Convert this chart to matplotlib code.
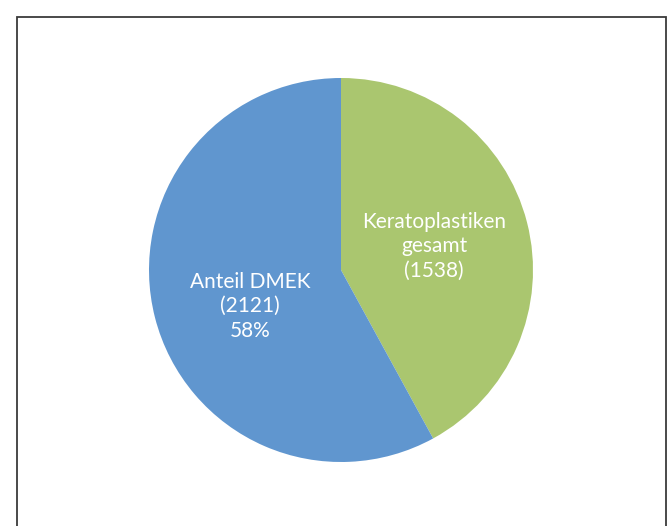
import matplotlib.pyplot as plt
from matplotlib.patches import Rectangle

# data
labels = ['Keratoplastiken\ngesamt\n(1538)', 'Anteil DMEK\n(2121)\n58%']
values = [1538, 2121]
colors = ['#AAC66F', '#6096CF']

W, H = 668, 526
fig = plt.figure(figsize=(W / 100, H / 100), dpi=100)

# outer chart frame (bottom edge runs off the image)
fig.add_artist(Rectangle((17 / W, -0.05), (666 - 17) / W, 1.05 - 17 / H,
                         transform=fig.transFigure, fill=False,
                         edgecolor='#3a3a3a', linewidth=1.3))

cx, cy, r = 341, 270, 192
ax = fig.add_axes([(cx - r) / W, (H - cy - r) / H, 2 * r / W, 2 * r / H])
wedges, texts = ax.pie(values, labels=labels, colors=colors, startangle=90,
                       counterclock=False, labeldistance=0.5,
                       textprops=dict(color='white', fontsize=15,
                                      family=['Lato', 'DejaVu Sans'],
                                      linespacing=1.27))
for t in texts:
    t.set_ha('center')
    t.set_va('center')
# Excel put the DMEK label a little lower than the slice centre
x, y = texts[1].get_position()
texts[1].set_position((x + 0.01, y - 0.065))
ax.set_xlim(-1, 1)
ax.set_ylim(-1, 1)

fig.savefig('out.png', dpi=100)
